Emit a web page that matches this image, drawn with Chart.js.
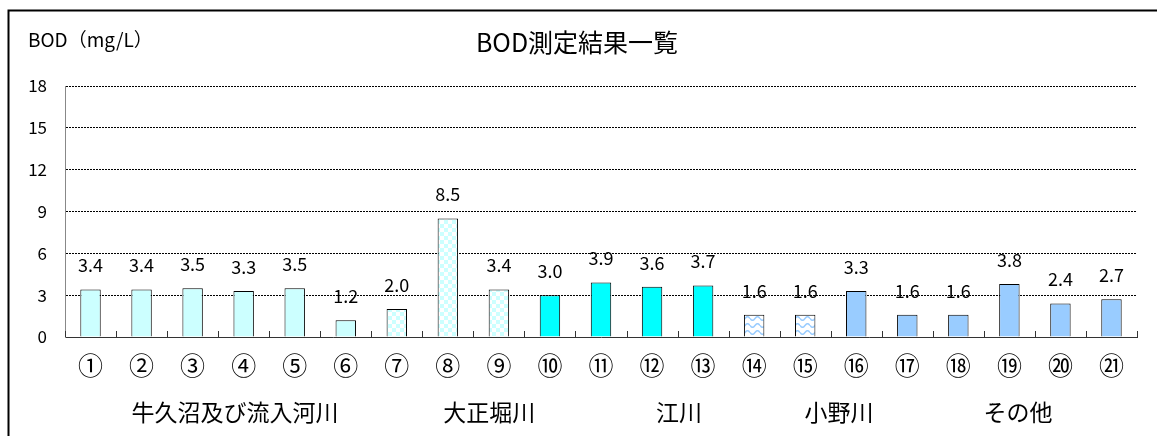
<!DOCTYPE html>
<html>
<head>
<meta charset="utf-8">
<script src="https://cdn.jsdelivr.net/npm/chart.js@4.4.0/dist/chart.umd.min.js"></script>
<style>
body{margin:0;background:#fff;}
</style>
</head>
<body>
<canvas id="bodChart" width="1157" height="436"></canvas>
<script>
// measuring points and BOD values (mg/L)
const sites=['①','②','③','④','⑤','⑥','⑦','⑧','⑨','⑩','⑪','⑫','⑬','⑭','⑮','⑯','⑰','⑱','⑲','⑳','㉑'];
const bod=[3.4,3.4,3.5,3.3,3.5,1.2,2.0,8.5,3.4,3.0,3.9,3.6,3.7,1.6,1.6,3.3,1.6,1.6,3.8,2.4,2.7];
const groupNames=['牛久沼及び流入河川','大正堀川','江川','小野川','その他'];
const yTicks=[0,3,6,9,12,15,18];

const FONT='"Noto Sans CJK JP", "Noto Sans", sans-serif';

// where each river name sits, in category units
const groupAt=[2.83,7.81,11.53,14.66,18.17];
// fill kind per bar
const fillKinds=['pale','pale','pale','pale','pale','pale','check','check','check',
  'cyan','cyan','cyan','cyan','wave','wave','blue','blue','blue','blue','blue','blue'];

function checkPattern(){
    const c=document.createElement('canvas');
    c.width=8;c.height=8;
    const g=c.getContext('2d');
    g.fillStyle='#fff';g.fillRect(0,0,8,8);
    g.fillStyle='#ccffff';
    g.fillRect(0,0,4,4);g.fillRect(4,4,4,4);
    return g.createPattern(c,'repeat');
}
function wavePattern(){
    const c=document.createElement('canvas');
    c.width=10;c.height=7;
    const g=c.getContext('2d');
    g.fillStyle='#fff';g.fillRect(0,0,10,7);
    g.strokeStyle='#99ccff';g.lineWidth=1.5;
    g.beginPath();
    for(let px=0;px<=10;px++){
        const py=3.5+1.8*Math.sin(px/10*Math.PI*2);
        if(px===0) g.moveTo(px,py); else g.lineTo(px,py);
    }
    g.stroke();
    return g.createPattern(c,'repeat');
}
const fills={pale:'#ccffff',cyan:'#00ffff',blue:'#99ccff',check:checkPattern(),wave:wavePattern()};

const decorations={
    id:'decorations',
    afterDatasetsDraw(chart){
        const {ctx,chartArea:a,scales:{x}}=chart;
        ctx.save();
        // small inside ticks between categories
        ctx.strokeStyle='#333';ctx.lineWidth=1;
        for(let i=0;i<=sites.length;i++){
            const px=Math.round(x.getPixelForValue(i-0.5))+0.5;
            ctx.beginPath();ctx.moveTo(px,a.bottom);ctx.lineTo(px,a.bottom-6);ctx.stroke();
        }
        // values above the bars
        ctx.fillStyle='#000';
        ctx.font='18px '+FONT;
        ctx.textAlign='center';ctx.textBaseline='middle';
        chart.getDatasetMeta(0).data.forEach((bar,i)=>{
            ctx.fillText(bod[i].toFixed(1),bar.x,bar.y-24);
        });
        ctx.restore();
    },
    afterDraw(chart){
        const {ctx,scales:{x}}=chart;
        ctx.save();
        ctx.fillStyle='#000';
        ctx.textBaseline='middle';
        // title and unit
        ctx.font='25px '+FONT;ctx.textAlign='center';
        ctx.fillText('BOD測定結果一覧',577,42);
        ctx.font='19px '+FONT;ctx.textAlign='left';
        ctx.fillText('BOD（mg/L）',28,40);
        // river names under the site numbers
        ctx.font='23px '+FONT;ctx.textAlign='center';
        groupNames.forEach((name,i)=>{
            ctx.fillText(name,x.getPixelForValue(groupAt[i]),412);
        });
        // frame
        ctx.strokeStyle='#000';ctx.lineWidth=2;
        ctx.beginPath();ctx.moveTo(8.5,436);ctx.lineTo(8.5,10.5);ctx.lineTo(1157,10.5);ctx.stroke();
        ctx.restore();
    }
};

const ctx=document.getElementById('bodChart').getContext('2d');
const bodChart=new Chart(ctx,{
    type:'bar',
    data:{
        labels:sites,
        datasets:[{
            label:'BOD',
            data:bod,
            backgroundColor:fillKinds.map(k=>fills[k]),
            borderColor:'#000',
            borderWidth:1,
            barPercentage:0.4,
            categoryPercentage:1.0
        }]
    },
    options:{
        responsive:false,
        devicePixelRatio:1,
        animation:false,
        layout:{padding:{top:86,right:20,left:0,bottom:0}},
        plugins:{legend:{display:false},tooltip:{enabled:false},title:{display:false}},
        scales:{
            x:{
                grid:{display:false,drawTicks:false},
                border:{display:true,color:'#333',width:1},
                ticks:{color:'#000',font:{family:FONT,size:25},padding:13,autoSkip:false,maxRotation:0},
                afterFit(scale){scale.height=99;}
            },
            y:{
                min:0,max:18,
                afterBuildTicks(scale){scale.ticks=yTicks.map(v=>({value:v}));},
                grid:{
                    drawTicks:false,
                    color:c=>c.tick.value===0?'rgba(0,0,0,0)':'#000',
                    lineWidth:1
                },
                border:{display:true,color:'#888',width:1,dash:[2,1]},
                ticks:{color:'#000',font:{family:FONT,size:17},padding:18},
                afterFit(scale){scale.width=65;}
            }
        }
    },
    plugins:[decorations]
});
</script>
</body>
</html>
